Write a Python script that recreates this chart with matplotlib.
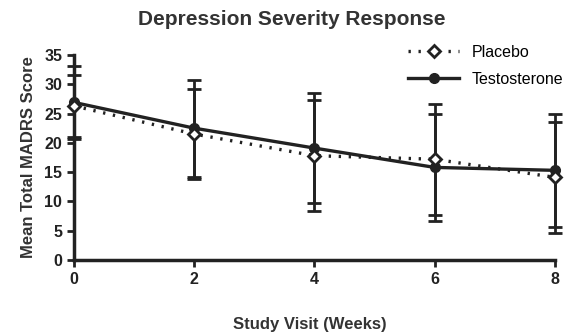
import matplotlib.pyplot as plt
from matplotlib.lines import Line2D

weeks = [0, 2, 4, 6, 8]
placebo_mean = [26.3, 21.5, 17.8, 17.2, 14.1]
placebo_err = [5.3, 7.7, 9.5, 9.5, 9.5]
testo_mean = [26.9, 22.5, 19.1, 15.8, 15.3]
testo_err = [6.2, 8.3, 9.4, 9.1, 9.6]

plt.rcParams['font.family'] = ['Liberation Sans', 'DejaVu Sans']

fig = plt.figure(figsize=(5.64, 3.35), dpi=100)
ax = fig.add_axes([0.131, 0.224, 0.853, 0.612])

c = '#222222'
placebo_ls = (0, (0.7, 2.3))
ax.errorbar(weeks, testo_mean, yerr=testo_err, color=c, lw=2.4, marker='o', ms=7,
            capsize=5, capthick=2, elinewidth=2, clip_on=False, zorder=3)
ax.errorbar(weeks, placebo_mean, yerr=placebo_err, color=c, lw=2.4, ls=placebo_ls,
            marker='D', ms=6.5, mfc='white', mec=c, mew=2, capsize=5, capthick=2,
            elinewidth=2, clip_on=False, zorder=4)

ax.set_xlim(0, 8)
ax.set_ylim(0, 35)
ax.set_xticks(weeks)
ax.set_yticks(range(0, 36, 5))
for s in ['top', 'right']:
    ax.spines[s].set_visible(False)
for s in ['left', 'bottom']:
    ax.spines[s].set_linewidth(2.5)
    ax.spines[s].set_color(c)
ax.tick_params(width=2, length=5, color=c, labelsize=11.5, labelcolor=c)
for lab in ax.get_xticklabels() + ax.get_yticklabels():
    lab.set_fontweight('bold')

ax.set_ylabel('Mean Total MADRS Score', fontsize=12, fontweight='bold', color='#333333', labelpad=6)
ax.set_xlabel('Study Visit (Weeks)', fontsize=12, fontweight='bold', color='#333333')
ax.xaxis.set_label_coords(0.49, -0.28)
fig.suptitle('Depression Severity Response', fontsize=15, fontweight='bold', color='#333333',
             x=0.518, y=0.97)

handles = [
    Line2D([], [], color=c, lw=2.4, ls=placebo_ls, marker='D', ms=6.5, mfc='white', mec=c, mew=2),
    Line2D([], [], color=c, lw=2.4, marker='o', ms=7),
]
fig.legend(handles, ['Placebo', 'Testosterone'], loc='upper right', bbox_to_anchor=(1.025, 0.91),
           frameon=False, fontsize=11.5, handlelength=3.2, labelspacing=0.75, handletextpad=0.8)

fig.savefig('out.png', dpi=100)
